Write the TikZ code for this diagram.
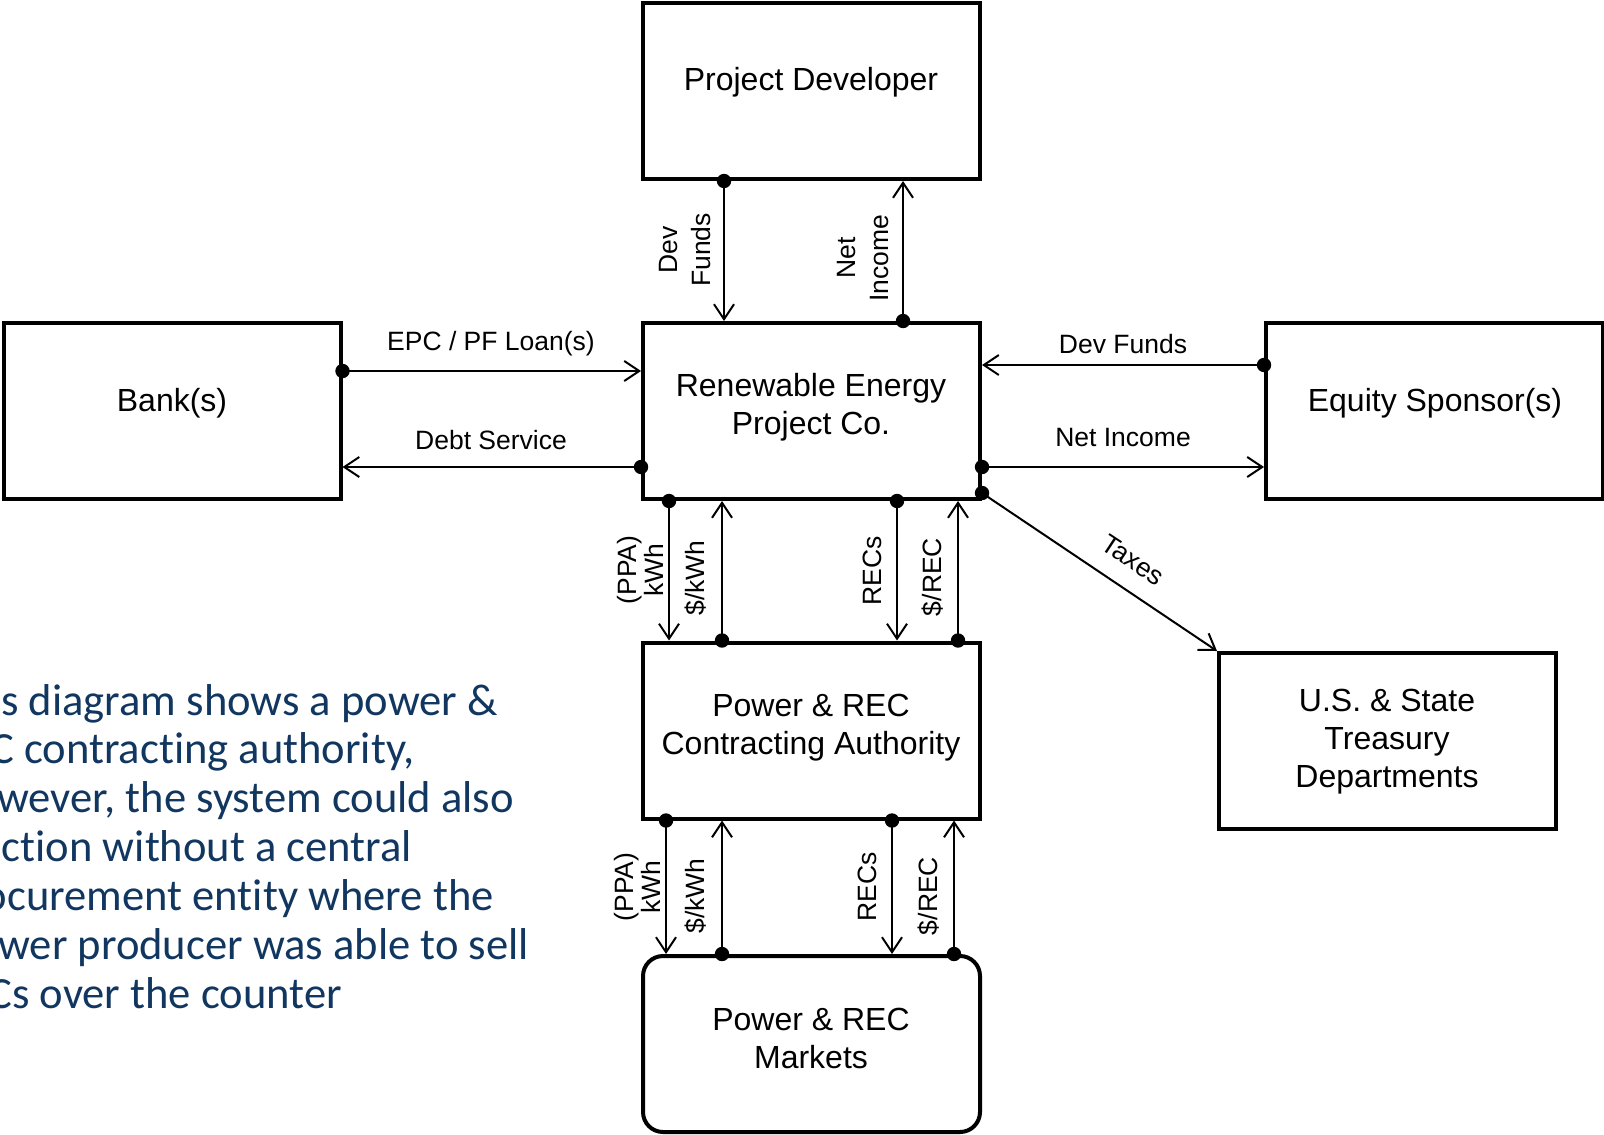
\documentclass[tikz,border=0pt]{standalone}
\usepackage{fontspec}
\setmainfont{Liberation Sans}
\newfontfamily\notefont[Ligatures=NoCommon]{Carlito}
\usetikzlibrary{arrows.meta}
\definecolor{notecol}{RGB}{17,55,96}
\begin{document}
\begin{tikzpicture}[x=0.5pt,y=-0.5pt,
  box/.style={draw, line width=2pt, minimum width=168.5pt, minimum height=88pt, inner sep=0pt},
  boxtext/.style={font=\fontsize{16}{19}\selectfont, align=center, inner sep=0pt},
  lbl/.style={font=\fontsize{13.25}{15.9}\selectfont, inner sep=0pt},
  vlbl/.style={lbl, rotate=90, align=center},
  flow/.style={line width=1pt, -{Straight Barb[length=7.5pt,width=10pt]}},
  note/.style={font=\notefont\fontsize{22.3}{24.5}\selectfont, text=notecol, anchor=base west, inner sep=0pt}
]
\useasboundingbox (0,0) rectangle (1604,1134);
\clip (0,0) rectangle (1604,1134);

% boxes
\node[box] (pd) at (811.5,91) {};
\node[box] (re) at (811.5,411) {};
\node[box] (bank) at (172,411) {};
\node[box] (eq) at (1434.5,411) {};
\node[box] (pr) at (811.5,730.5) {};
\node[box, rounded corners=10pt] (mk) at (811.5,1044) {};
\node[box] (tr) at (1387.5,741) {};

% box texts
\node[boxtext, anchor=base] (pd-t) at (811,91) {Project Developer};
\node[boxtext] (re-t) at (811,407.5) {Renewable Energy\\Project Co.};
\node[boxtext, anchor=base] (bank-t) at (172,411) {Bank(s)};
\node[boxtext, anchor=base] (eq-t) at (1435,411) {Equity Sponsor(s)};
\node[boxtext] (pr-t) at (811,728) {Power \& REC\\Contracting Authority};
\node[boxtext] (mk-t) at (811,1038.5) {Power \& REC\\Markets};
\node[boxtext] (tr-t) at (1387,742) {U.S. \& State\\Treasury\\Departments};

% developer <-> project co
\draw[flow] ([xshift=-43.75pt]pd.south) -- ([xshift=-43.75pt]re.north);
\fill ([xshift=-43.75pt]pd.south) circle (3.6pt);
\draw[flow] ([xshift=45.75pt]re.north) -- ([xshift=45.75pt]pd.south);
\fill ([xshift=45.75pt]re.north) circle (3.6pt);

% bank <-> project co
\draw[flow] ([yshift=20pt]bank.east) -- ([yshift=20pt]re.west);
\fill ([yshift=20pt]bank.east) circle (3.6pt);
\draw[flow] ([yshift=-28pt]re.west) -- ([yshift=-28pt]bank.east);
\fill ([yshift=-28pt]re.west) circle (3.6pt);

% equity <-> project co
\draw[flow] ([yshift=23pt]eq.west) -- ([yshift=23pt]re.east);
\fill ([yshift=23pt]eq.west) circle (3.6pt);
\draw[flow] ([yshift=-28pt]re.east) -- ([yshift=-28pt]eq.west);
\fill ([yshift=-28pt]re.east) circle (3.6pt);

% taxes
\draw[flow] ([yshift=-41pt]re.east) -- (tr.north west);
\fill ([yshift=-41pt]re.east) circle (3.6pt);

% project co <-> contracting authority
\draw[flow] ([xshift=-71.25pt]re.south) -- ([xshift=-71.25pt]pr.north);
\fill ([xshift=-71.25pt]re.south) circle (3.6pt);
\draw[flow] ([xshift=-44.75pt]pr.north) -- ([xshift=-44.75pt]re.south);
\fill ([xshift=-44.75pt]pr.north) circle (3.6pt);
\draw[flow] ([xshift=42.75pt]re.south) -- ([xshift=42.75pt]pr.north);
\fill ([xshift=42.75pt]re.south) circle (3.6pt);
\draw[flow] ([xshift=73.25pt]pr.north) -- ([xshift=73.25pt]re.south);
\fill ([xshift=73.25pt]pr.north) circle (3.6pt);

% contracting authority <-> markets
\draw[flow] ([xshift=-72.75pt]pr.south) -- ([xshift=-72.75pt]mk.north);
\fill ([xshift=-72.75pt]pr.south) circle (3.6pt);
\draw[flow] ([xshift=-44.75pt]mk.north) -- ([xshift=-44.75pt]pr.south);
\fill ([xshift=-44.75pt]mk.north) circle (3.6pt);
\draw[flow] ([xshift=40.25pt]pr.south) -- ([xshift=40.25pt]mk.north);
\fill ([xshift=40.25pt]pr.south) circle (3.6pt);
\draw[flow] ([xshift=71.25pt]mk.north) -- ([xshift=71.25pt]pr.south);
\fill ([xshift=71.25pt]mk.north) circle (3.6pt);

% connector labels
\node[lbl, anchor=base] (l-epc) at (491,350) {EPC / PF Loan(s)};
\node[lbl, anchor=base] (l-debt) at (491,449) {Debt Service};
\node[lbl, anchor=base] (l-devr) at (1123,353) {Dev Funds};
\node[lbl, anchor=base] (l-netr) at (1123,446) {Net Income};
\node[lbl, rotate=-33.4] (l-tax) at (1133,560) {Taxes};
\node[vlbl, font=\fontsize{13.25}{16.5}\selectfont] (l-dev) at (685,250) {Dev\\Funds};
\node[vlbl, font=\fontsize{13.25}{16.5}\selectfont] (l-net) at (863,258) {Net\\Income};
\node[vlbl, font=\fontsize{13.25}{13.5}\selectfont] (l-ppa1) at (640,570) {(PPA)\\kWh};
\node[vlbl] (l-kwh1) at (696,578) {\$/kWh};
\node[vlbl] (l-rec1) at (872,571) {RECs};
\node[vlbl] (l-prc1) at (933,577) {\$/REC};
\node[vlbl, font=\fontsize{13.25}{13.5}\selectfont] (l-ppa2) at (637,887) {(PPA)\\kWh};
\node[vlbl] (l-kwh2) at (696,896) {\$/kWh};
\node[vlbl] (l-rec2) at (867,887) {RECs};
\node[vlbl] (l-prc2) at (929,896) {\$/REC};

% side note (cut off at the left edge)
\node[note] (n1) at (1,715) {s diagram shows a power \&};
\node[note] (n2) at (-10,763.9) {C contracting authority,};
\node[note] (n3) at (-3,812.8) {wever, the system could also};
\node[note] (n4) at (1.5,861.7) {ction without a central};
\node[note] (n5) at (-16.5,910.6) {ocurement entity where the};
\node[note] (n6) at (-2,959.5) {wer producer was able to sell};
\node[note] (n7) at (-12,1008.4) {Cs over the counter};
\end{tikzpicture}
\end{document}
